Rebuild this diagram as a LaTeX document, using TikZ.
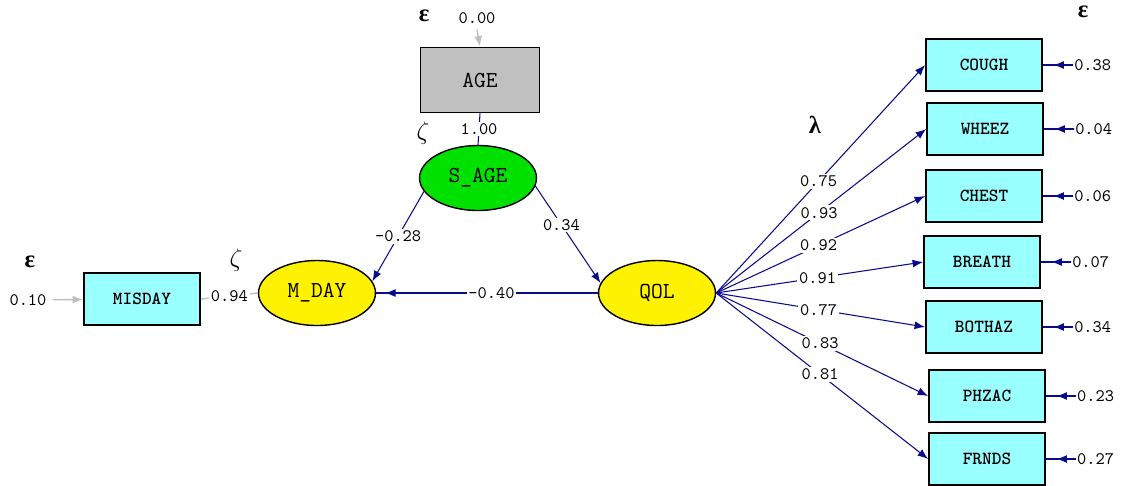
\documentclass[tikz,border=0pt]{standalone}
\usepackage{fontspec}
\newfontfamily\grk{Liberation Serif}
\usetikzlibrary{shapes.geometric,calc,arrows.meta}
\definecolor{boxcyan}{RGB}{153,255,255}
\definecolor{agegray}{RGB}{192,192,192}
\definecolor{latgreen}{RGB}{0,225,0}
\definecolor{pathblue}{RGB}{10,10,140}
\definecolor{errgray}{RGB}{190,190,190}

\begin{document}
\begin{tikzpicture}[x=0.02cm,y=-0.02cm,>={Latex[length=6pt,width=4.5pt]},
    every node/.style={font=\ttfamily\fontsize{10}{10}\selectfont},
    box/.style={draw,line width=1pt,fill=boxcyan,minimum width=2.32cm,minimum height=1.04cm,
      font=\ttfamily\bfseries\fontsize{10.5}{10}\selectfont},
    lat/.style={draw,ellipse,line width=0.8pt,minimum width=2.34cm,minimum height=1.3cm,
      font=\ttfamily\fontsize{13}{13}\selectfont},
    path/.style={draw=pathblue,line width=0.6pt},
    errpath/.style={draw=errgray,line width=0.8pt},
    lbl/.style={fill=white,inner sep=1pt},
    greek/.style={font=\grk\bfseries\fontsize{14}{14}\selectfont}]
  \useasboundingbox (0,0) rectangle (1121,485);

  % observed and latent variables
  \node[draw,line width=1pt,fill=agegray,minimum width=2.38cm,minimum height=1.3cm,
    font=\ttfamily\fontsize{13}{13}\selectfont] (AGE) at (480,80) {AGE};
  \node[lat,fill=latgreen] (SAGE) at (478,178) {S\_AGE};
  \node[lat,fill=yellow] (MDAY) at (317,293) {M\_DAY};
  \node[lat,fill=yellow] (QOL) at (657,293) {QOL};
  \node[box] (MISDAY) at (142,299) {MISDAY};

  % greek headers
  \node[greek] (epsAGE) at (424,16) {ε};
  \node[greek] (epsMIS) at (30,262) {ε};
  \node[greek] (epsIND) at (1083,12) {ε};
  \node[font=\fontsize{14}{14}\selectfont] (zetaSAGE) at (423,133) {$\zeta$};
  \node[font=\fontsize{14}{14}\selectfont] (zetaMDAY) at (236,260) {$\zeta$};
  \node[greek] (lambda) at (815,125) {λ};

  % error terms of AGE and MISDAY
  \node (eAGE) at (477,18) {0.00};
  \draw[errpath,->] (eAGE.south) -- (AGE.north);
  \node (eMIS) at (28,300) {0.10};
  \draw[errpath,->] (eMIS) -- (MISDAY);
  \draw[errpath] (MISDAY.east) -- node[lbl]{0.94} (MDAY.west);
  \draw[path] (AGE.south) -- node[lbl]{1.00} (SAGE.north);

  % structural paths
  \draw[path,->] (SAGE.194) -- node[lbl]{-0.28} (MDAY.12);
  \draw[path,->] (SAGE.-8) -- node[lbl,pos=0.4]{0.34} (QOL.170);
  \draw[path,->] (QOL.west) -- ($(MDAY.east)!0.04!(QOL.west)$);
  \draw[path] (QOL.west) -- node[lbl,pos=0.48]{-0.40} (MDAY.east);

  % indicators of QOL
  \foreach \n/\x/\y/\l/\e in {COUGH/984/65/0.75/0.38, WHEEZ/985/129/0.93/0.04,
      CHEST/984/196/0.92/0.06, BREATH/982/262/0.91/0.07, BOTHAZ/984/327/0.77/0.34,
      PHZAC/987/396/0.83/0.23, FRNDS/987/459/0.81/0.27}{
    \node[box] (\n) at (\x,\y) {\n};
    \node[anchor=west,inner sep=0.5pt] (e\n) at (\x+89,\y) {\e};
    \draw[path] (\n.east) -- (e\n.west);
    \draw[path,->] (e\n.west) -- ($(\n.east)!0.35!(e\n.west)$);
    \draw[path,->] (QOL.east) -- node[lbl,pos=0.49]{\l} (\n.west);
  }
\end{tikzpicture}
\end{document}
